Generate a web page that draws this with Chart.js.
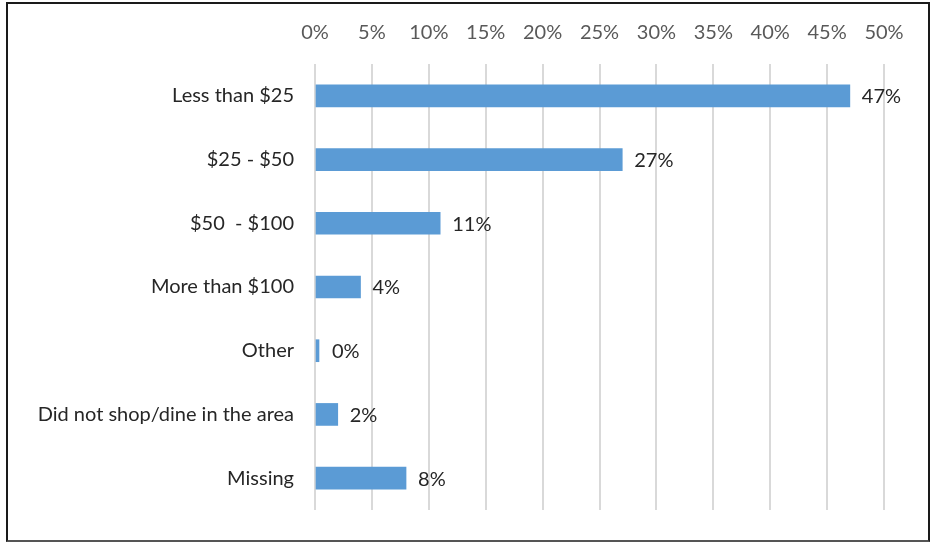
<!DOCTYPE html>
<html>
<head>
<meta charset="utf-8">
<script src="https://cdn.jsdelivr.net/npm/chart.js@4"></script>
<style>
  html, body { margin: 0; padding: 0; background: #fff; }
  #wrap { position: absolute; left: 0; top: 0; width: 935px; height: 543px; }
  #frame { position: absolute; left: 6px; top: 2px; width: 920px; height: 536px; border: 2px solid #1a1a1a; border-bottom-color: #555; pointer-events: none; }
</style>
</head>
<body>
<div id="wrap">
  <canvas id="spendChart" width="935" height="543"></canvas>
  <div id="frame"></div>
</div>
<script>
// categories + shares (%)
const categories = ["Less than $25", "$25 - $50", "$50  - $100", "More than $100", "Other", "Did not shop/dine in the area", "Missing"];
const shares = [47, 27, 11, 4, 0, 2, 8];
const tickMax = 50;
const tickStep = 5;

const fontFamily = "Lato, 'Open Sans', sans-serif";

// value labels at the end of each bar
const barLabels = {
  id: "barLabels",
  afterDatasetsDraw(chart) {
    const ctx = chart.ctx;
    const meta = chart.getDatasetMeta(0);
    ctx.save();
    ctx.font = "20px " + fontFamily;
    ctx.fillStyle = "#262626";
    ctx.textAlign = "left";
    ctx.textBaseline = "middle";
    meta.data.forEach((bar, i) => {
      ctx.fillText(Math.round(shares[i]) + "%", Math.max(bar.x, bar.base + 4) + 12, bar.y + 1);
    });
    ctx.restore();
  }
};

new Chart(document.getElementById("spendChart"), {
  type: "bar",
  data: {
    labels: categories,
    datasets: [{
      data: shares,
      backgroundColor: "#5b9bd5",
      barThickness: 22,
      minBarLength: 4
    }]
  },
  options: {
    indexAxis: "y",
    responsive: false,
    animation: false,
    layout: { padding: { left: 0, right: 51, top: 0, bottom: 19 } },
    plugins: { legend: { display: false }, tooltip: { enabled: false } },
    scales: {
      x: {
        position: "top",
        min: 0,
        max: tickMax,
        afterFit(scale) { scale.height = 64; },
        grid: { color: "#d9d9d9", lineWidth: 2, drawTicks: false },
        border: { display: false },
        ticks: {
          stepSize: tickStep,
          padding: 19,
          color: "#595959",
          font: { family: fontFamily, size: 20 },
          callback: v => v + "%"
        }
      },
      y: {
        afterFit(scale) { scale.width = 315; },
        grid: { display: false, drawTicks: false },
        border: { display: false },
        ticks: {
          padding: 21,
          color: "#262626",
          font: { family: fontFamily, size: 20 }
        }
      }
    }
  },
  plugins: [barLabels]
});
</script>
</body>
</html>
